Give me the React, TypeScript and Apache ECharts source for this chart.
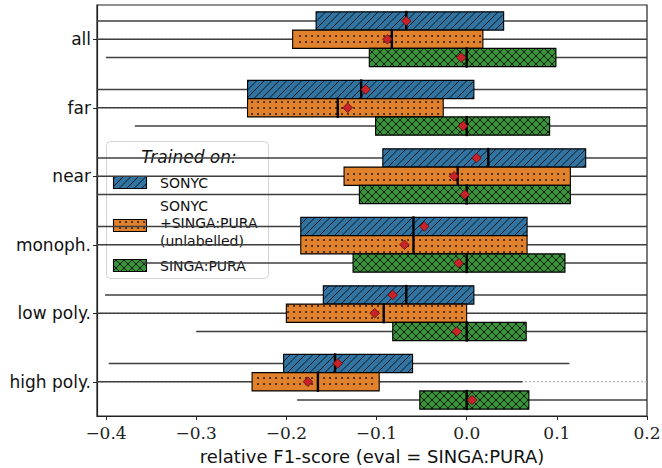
import React, { useEffect, useRef } from 'react';
import * as echarts from 'echarts';

const categories = ['all', 'far', 'near', 'monoph.', 'low poly.', 'high poly.'];
const hueNames = ['SONYC', 'SONYC\n+SINGA:PURA\n(unlabelled)', 'SINGA:PURA'];
const hueColors = ['#3274a1', '#e1812c', '#3a923a'];
const xTicks = [-0.4, -0.3, -0.2, -0.1, 0.0, 0.1, 0.2];

// per category: [whiskerLow, q1, median, q3, whiskerHigh, mean]
const sonycStats = [
  [-0.45, -0.167, -0.067, 0.041, 0.25, -0.067],
  [-0.45, -0.243, -0.117, 0.008, 0.25, -0.112],
  [-0.45, -0.093, 0.024, 0.132, 0.25, 0.011],
  [-0.45, -0.184, -0.059, 0.067, 0.25, -0.047],
  [-0.401, -0.159, -0.067, 0.008, 0.25, -0.082],
  [-0.397, -0.203, -0.146, -0.06, 0.114, -0.143],
];
const sonycSingaStats = [
  [-0.45, -0.193, -0.083, 0.018, 0.25, -0.088],
  [-0.45, -0.243, -0.143, -0.026, 0.25, -0.132],
  [-0.45, -0.136, -0.01, 0.115, 0.25, -0.014],
  [-0.45, -0.184, -0.059, 0.067, 0.25, -0.069],
  [-0.45, -0.2, -0.092, 0.0, 0.25, -0.102],
  [-0.45, -0.238, -0.165, -0.097, 0.062, -0.176],
];
const singaStats = [
  [-0.4, -0.108, 0.0, 0.099, 0.25, -0.006],
  [-0.368, -0.101, 0.0, 0.092, 0.25, -0.004],
  [-0.45, -0.119, 0.0, 0.115, 0.25, -0.002],
  [-0.36, -0.126, 0.0, 0.109, 0.25, -0.009],
  [-0.3, -0.082, 0.0, 0.066, 0.25, -0.011],
  [-0.188, -0.052, 0.0, 0.069, 0.25, 0.006],
];
const allStats = [sonycStats, sonycSingaStats, singaStats];

const SANS = 'DejaVu Sans';
const SERIF = 'DejaVu Serif';

function diagLines(x0: number, y0: number, x1: number, y1: number, s: number, dir: number) {
  const out: any[] = [];
  const st = { stroke: '#000', lineWidth: 0.8 };
  if (dir > 0) {
    const kStart = Math.ceil((x0 + y0) / s);
    const kEnd = Math.floor((x1 + y1) / s);
    for (let k = kStart; k <= kEnd; k++) {
      const c = k * s;
      const xa = Math.max(x0, c - y1);
      const xb = Math.min(x1, c - y0);
      if (xb - xa < 0.3) continue;
      out.push({ type: 'line', shape: { x1: xa, y1: c - xa, x2: xb, y2: c - xb }, style: st, silent: true });
    }
  } else {
    const kStart = Math.ceil((x0 - y1) / s);
    const kEnd = Math.floor((x1 - y0) / s);
    for (let k = kStart; k <= kEnd; k++) {
      const c = k * s;
      const xa = Math.max(x0, c + y0);
      const xb = Math.min(x1, c + y1);
      if (xb - xa < 0.3) continue;
      out.push({ type: 'line', shape: { x1: xa, y1: xa - c, x2: xb, y2: xb - c }, style: st, silent: true });
    }
  }
  return out;
}

function dots(x0: number, y0: number, x1: number, y1: number, s: number) {
  const out: any[] = [];
  const jStart = Math.ceil((y0 + 1) / s);
  const jEnd = Math.floor((y1 - 1) / s);
  const iStart = Math.ceil((x0 + 1.5) / s);
  const iEnd = Math.floor((x1 - 1.5) / s);
  for (let j = jStart; j <= jEnd; j++) {
    for (let i = iStart; i <= iEnd; i++) {
      out.push({ type: 'circle', shape: { cx: i * s, cy: j * s, r: 0.9 }, style: { fill: '#111' }, silent: true });
    }
  }
  return out;
}

function hatch(hue: number, x0: number, y0: number, x1: number, y1: number) {
  if (hue === 0) return diagLines(x0, y0, x1, y1, 7.5, 1);
  if (hue === 1) return dots(x0, y0, x1, y1, 6);
  return [...diagLines(x0, y0, x1, y1, 8, 1), ...diagLines(x0, y0, x1, y1, 8, -1)];
}

function patch(hue: number, x: number, y: number, w: number, h: number) {
  return [
    { type: 'rect', shape: { x, y, width: w, height: h }, style: { fill: hueColors[hue] } },
    ...hatch(hue, x, y, x + w, y + h),
    { type: 'rect', shape: { x, y, width: w, height: h }, style: { fill: 'none', stroke: '#000', lineWidth: 1.1 } },
  ];
}

const makeRender = (hue: number) => (params: any, api: any) => {
  const cat = api.value(0);
  const band = api.size([0, 1])[1];
  const h = (band * 0.8) / 3;
  const yc = api.coord([0, cat])[1] + (hue - 1) * h;
  const X = (v: number) => api.coord([v, cat])[0];
  const wl = X(api.value(1));
  const q1 = X(api.value(2));
  const md = X(api.value(3));
  const q3 = X(api.value(4));
  const wh = X(api.value(5));
  const mn = X(api.value(6));
  const y0 = yc - h / 2;
  const y1 = yc + h / 2;
  const d = 4.8;
  const children: any[] = [
    { type: 'line', shape: { x1: wl, y1: yc, x2: wh, y2: yc }, style: { stroke: '#3f3f3f', lineWidth: 1.5 } },
    ...patch(hue, q1, y0, q3 - q1, h),
    { type: 'line', shape: { x1: md, y1: y0 - 1, x2: md, y2: y1 + 1 }, style: { stroke: '#000', lineWidth: 2.4 } },
    {
      type: 'polygon',
      shape: { points: [[mn, yc - d], [mn + d, yc], [mn, yc + d], [mn - d, yc]] },
      style: { fill: '#c8232a', stroke: '#5e0b0e', lineWidth: 0.8 },
    },
  ];
  return { type: 'group', children };
};

const gridRender = (params: any, api: any) => {
  const cs = params.coordSys;
  const y = api.coord([0, api.value(1)])[1];
  return {
    type: 'line',
    shape: { x1: cs.x, y1: y, x2: cs.x + cs.width, y2: y },
    style: { stroke: '#a8a8a8', lineWidth: 1, lineDash: [2, 2] },
  };
};

function legendGraphic() {
  const children: any[] = [
    {
      type: 'rect',
      shape: { x: 106.5, y: 141.5, width: 162, height: 137, r: 4 },
      style: { fill: 'rgba(255,255,255,0.8)', stroke: '#d4d4d4', lineWidth: 1 },
    },
    {
      type: 'text',
      style: {
        x: 189, y: 157, text: 'Trained on:', fill: '#111',
        font: `italic 17px "${SANS}"`, align: 'center', verticalAlign: 'middle',
      },
    },
  ];
  const patchY = [176.5, 219.5, 259.5];
  const textY = [183, 223, 266];
  hueNames.forEach((name, i) => {
    children.push(...patch(i, 113.5, patchY[i], 33, 12));
    children.push({
      type: 'text',
      style: {
        x: 160, y: textY[i], text: name, fill: '#111', font: `14px "${SANS}"`,
        align: 'left', verticalAlign: 'middle', lineHeight: 17.5,
      },
    });
  });
  return { type: 'group', z: 100, children };
}

export default function App() {
  const ref = useRef<HTMLDivElement>(null);
  useEffect(() => {
    if (!ref.current) return;
    const chart = echarts.init(ref.current, undefined, { renderer: 'svg' });
    const fmt = (v: number) => (v < -1e-9 ? '\u2212' : '') + Math.abs(v).toFixed(1);
    const series: any[] = [
      {
        type: 'custom',
        renderItem: gridRender,
        data: categories.map((_, i) => [0, i]),
        encode: { x: 0, y: 1 },
        clip: true,
        silent: true,
        z: 1,
      },
    ];
    allStats.forEach((stats, hue) => {
      series.push({
        type: 'custom',
        name: hueNames[hue],
        renderItem: makeRender(hue),
        data: stats.map((s, i) => [i, ...s]),
        encode: { x: [1, 2, 3, 4, 5, 6], y: 0 },
        clip: true,
        silent: true,
        z: 2 + hue,
      });
    });
    chart.setOption({
      animation: false,
      backgroundColor: '#fff',
      grid: {
        left: 97, right: 15, top: 5, bottom: 52,
        outerBoundsMode: 'none',
        containLabel: false,
        show: true, borderColor: '#222', borderWidth: 1.2, backgroundColor: 'transparent',
      },
      xAxis: {
        type: 'value',
        min: -0.41,
        max: 0.2,
        name: 'relative F1-score (eval = SINGA:PURA)',
        nameLocation: 'middle',
        nameGap: 31,
        nameTextStyle: { fontFamily: SANS, fontSize: 18, color: '#111' },
        axisLine: { show: true, onZero: false, lineStyle: { color: '#222', width: 1.2 } },
        axisTick: { show: true, length: 4, lineStyle: { color: '#222', width: 1 }, customValues: xTicks },
        axisLabel: {
          customValues: xTicks,
          formatter: fmt,
          fontFamily: SERIF,
          fontSize: 17,
          color: '#222',
          margin: 8,
        },
        splitLine: { show: false },
      },
      yAxis: {
        type: 'category',
        data: categories,
        inverse: true,
        axisLine: { show: true, onZero: false, lineStyle: { color: '#222', width: 1.2 } },
        axisTick: { show: true, alignWithLabel: true, length: 4, lineStyle: { color: '#222' } },
        axisLabel: { fontFamily: SANS, fontSize: 17, color: '#111', margin: 6 },
        splitLine: { show: false },
      },
      graphic: [legendGraphic()],
      series,
    });
    return () => chart.dispose();
  }, []);
  return (
    <div
      ref={ref}
      style={{ position: 'fixed', left: 0, top: 0, width: 662, height: 468, background: '#fff' }}
    />
  );
}
